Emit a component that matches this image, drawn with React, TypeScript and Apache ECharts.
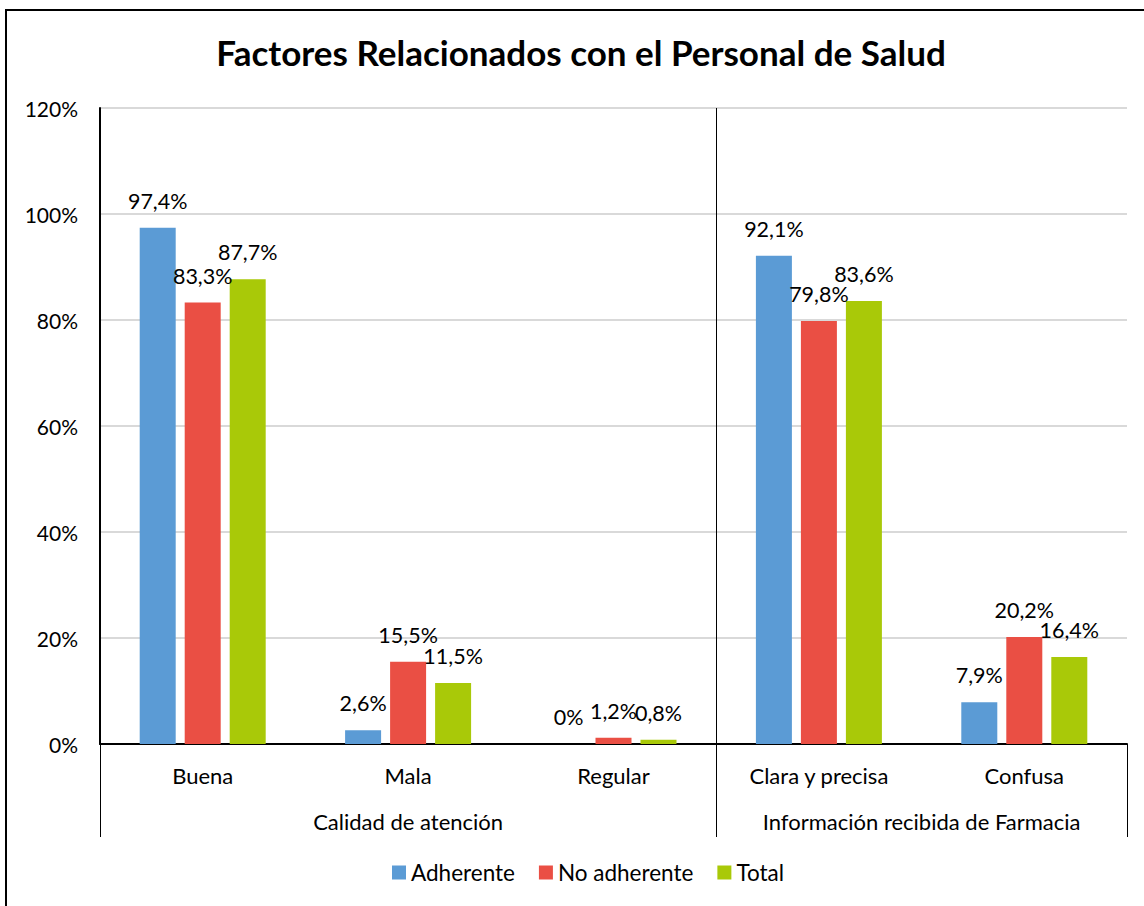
import React, { useEffect, useRef } from "react";
import * as echarts from "echarts";

const titleText = "Factores Relacionados con el Personal de Salud";
const categories = ["Buena", "Mala", "Regular", "Clara y precisa", "Confusa"];
const groups = ["Calidad de atención", "Información recibida de Farmacia"];
const groupBounds = [0, 3, 5];
const groupCenters = [1.5, 4];
const groupSeparators = [3];
const seriesNames = ["Adherente", "No adherente", "Total"];
const adherente = [97.4, 2.6, 0, 92.1, 7.9];
const noAdherente = [83.3, 15.5, 1.2, 79.8, 20.2];
const total = [87.7, 11.5, 0.8, 83.6, 16.4];
const colors = ["#5b9bd5", "#ea4f44", "#a9c908"];

const FONT = "Lato";

const fmt = (v: number) => (v === 0 ? "0%" : v.toFixed(1).replace(".", ",") + "%");

export default function App() {
  const ref = useRef<HTMLDivElement>(null);
  useEffect(() => {
    if (!ref.current) return;
    const chart = echarts.init(ref.current, undefined, { renderer: "svg" });
    const values = [adherente, noAdherente, total];
    chart.setOption({
      animation: false,
      textStyle: { fontFamily: FONT, color: "#000" },
      title: {
        text: titleText,
        left: 576,
        textAlign: "center",
        top: 29,
        textStyle: { fontFamily: FONT, fontSize: 35, fontWeight: "bold", color: "#000" },
      },
      legend: {
        data: seriesNames,
        top: 856,
        left: 387,
        icon: "rect",
        itemWidth: 14,
        itemHeight: 14,
        itemGap: 24,
        textStyle: { fontFamily: FONT, fontSize: 22.5, color: "#000" },
      },
      graphic: [
        {
          type: "rect",
          shape: { x: 6, y: 10, width: 1160, height: 920 },
          style: { fill: "none", stroke: "#000", lineWidth: 2 },
          silent: true,
        },
      ],
      grid: { left: 100, right: 17, top: 108, bottom: 162 },
      xAxis: [
        {
          type: "category",
          data: categories,
          position: "bottom",
          axisLine: { lineStyle: { color: "#000", width: 2 } },
          axisTick: { show: false },
          axisLabel: { fontFamily: FONT, fontSize: 22, color: "#000", margin: 20 },
        },
        {
          type: "value",
          min: 0,
          max: 5,
          position: "bottom",
          axisLine: { show: false },
          splitLine: { show: false },
          axisTick: { show: true, customValues: groupBounds, length: 93, lineStyle: { color: "#000", width: 1 } },
          axisLabel: {
            customValues: groupCenters,
            formatter: (v: number) => groups[groupCenters.indexOf(v)] ?? "",
            fontFamily: FONT,
            fontSize: 22,
            color: "#000",
            margin: 66,
          },
        },
        {
          type: "value",
          min: 0,
          max: 5,
          position: "bottom",
          axisLine: { show: false },
          splitLine: { show: false },
          axisLabel: { show: false },
          axisTick: { show: true, inside: true, customValues: groupSeparators, length: 636, lineStyle: { color: "#000", width: 1 } },
        },
      ],
      yAxis: {
        type: "value",
        min: 0,
        max: 120,
        interval: 20,
        axisLine: { show: true, lineStyle: { color: "#000", width: 2 } },
        axisTick: { show: false },
        axisLabel: { formatter: "{value}%", fontFamily: FONT, fontSize: 21, color: "#000", margin: 22 },
        splitLine: { lineStyle: { color: "#d9d9d9", width: 2 } },
      },
      series: seriesNames.map((name, i) => ({
        name,
        type: "bar",
        xAxisIndex: 0,
        data: values[i],
        barWidth: 36,
        barGap: "25%",
        itemStyle: { color: colors[i] },
        label: {
          show: true,
          position: "top",
          distance: 16,
          fontFamily: FONT,
          fontSize: 21.5,
          color: "#000",
          formatter: (p: any) => fmt(p.value),
        },
      })),
    });
    return () => chart.dispose();
  }, []);
  return <div ref={ref} style={{ position: "fixed", left: 0, top: 0, width: 1144, height: 906, background: "#fff" }} />;
}
